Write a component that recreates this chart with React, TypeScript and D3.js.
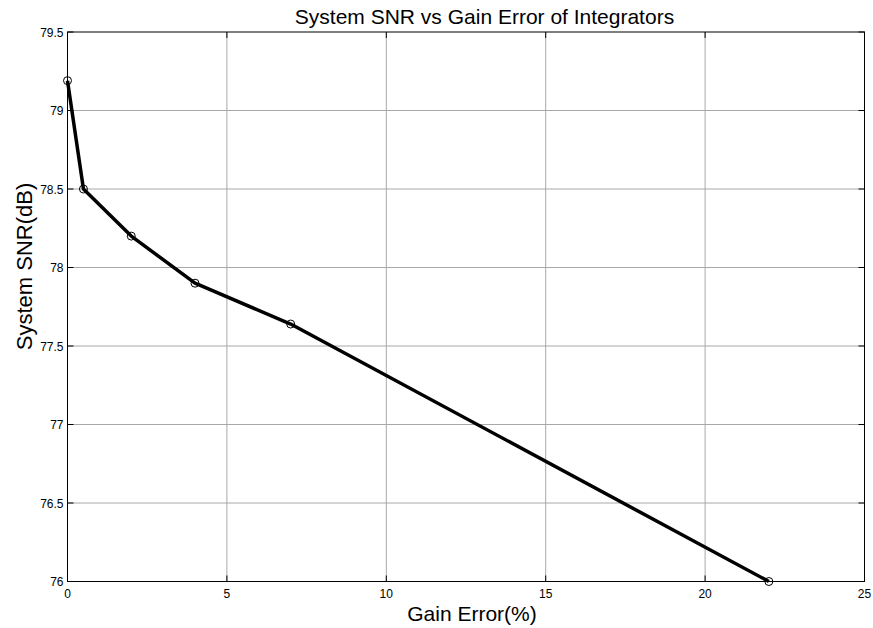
import * as d3 from 'd3';
import { useEffect, useRef } from 'react';

const gainError = [0, 0.5, 2, 4, 7, 22];
const snr = [79.19, 78.5, 78.2, 77.9, 77.64, 76];
const xTicks = [0, 5, 10, 15, 20, 25];
const yTicks = [76, 76.5, 77, 77.5, 78, 78.5, 79, 79.5];

const App = () => {
    const svgRef = useRef<SVGSVGElement>(null);

    useEffect(() => {
        const w = 873;
        const h = 628;
        const left = 67.5;
        const right = 864.5;
        const top = 32;
        const bottom = 581.5;
        const font = 'Liberation Sans, Arial, sans-serif';

        const svg = d3.select(svgRef.current);
        svg.selectAll('*').remove();
        svg.attr('width', w).attr('height', h);

        svg.append('rect').attr('width', w).attr('height', h).attr('fill', 'white');

        const x = d3.scaleLinear().domain([0, 25]).range([left, right]);
        const y = d3.scaleLinear().domain([76, 79.5]).range([bottom, top]);

        // grid
        const grid = svg.append('g').attr('stroke', '#a8a8a8').attr('stroke-width', 1);
        xTicks.slice(1, -1).forEach((t) => {
            grid.append('line').attr('x1', x(t)).attr('x2', x(t)).attr('y1', top).attr('y2', bottom);
        });
        yTicks.slice(1, -1).forEach((t) => {
            grid.append('line').attr('x1', left).attr('x2', right).attr('y1', y(t)).attr('y2', y(t));
        });

        // inward ticks
        const ticks = svg.append('g').attr('stroke', 'black').attr('stroke-width', 1);
        xTicks.forEach((t) => {
            ticks.append('line').attr('x1', x(t)).attr('x2', x(t)).attr('y1', bottom).attr('y2', bottom - 6);
            ticks.append('line').attr('x1', x(t)).attr('x2', x(t)).attr('y1', top).attr('y2', top + 6);
        });
        yTicks.forEach((t) => {
            ticks.append('line').attr('x1', left).attr('x2', left + 6).attr('y1', y(t)).attr('y2', y(t));
            ticks.append('line').attr('x1', right).attr('x2', right - 6).attr('y1', y(t)).attr('y2', y(t));
        });

        svg.append('rect')
            .attr('x', left)
            .attr('y', top)
            .attr('width', right - left)
            .attr('height', bottom - top)
            .attr('fill', 'none')
            .attr('stroke', 'black')
            .attr('stroke-width', 1);

        // tick labels
        svg.append('g')
            .selectAll('text')
            .data(xTicks)
            .enter()
            .append('text')
            .attr('x', (d) => x(d))
            .attr('y', bottom + 16.5)
            .attr('text-anchor', 'middle')
            .style('font-family', font)
            .style('font-size', '12px')
            .text((d) => d);

        svg.append('g')
            .selectAll('text')
            .data(yTicks)
            .enter()
            .append('text')
            .attr('x', left - 4)
            .attr('y', (d) => y(d) + 4.5)
            .attr('text-anchor', 'end')
            .style('font-family', font)
            .style('font-size', '12px')
            .text((d) => d);

        const pts = gainError.map((g, i) => [g, snr[i]] as [number, number]);
        const line = d3
            .line<[number, number]>()
            .x((d) => x(d[0]))
            .y((d) => y(d[1]));

        svg.append('path')
            .datum(pts)
            .attr('d', line)
            .attr('fill', 'none')
            .attr('stroke', 'black')
            .attr('stroke-width', 3.5)
            .attr('stroke-linejoin', 'round');

        svg.append('g')
            .selectAll('circle')
            .data(pts)
            .enter()
            .append('circle')
            .attr('cx', (d) => x(d[0]))
            .attr('cy', (d) => y(d[1]))
            .attr('r', 4)
            .attr('fill', 'none')
            .attr('stroke', 'black')
            .attr('stroke-width', 1);

        svg.append('text')
            .attr('x', 484.5)
            .attr('y', 24)
            .attr('text-anchor', 'middle')
            .style('font-family', font)
            .style('font-size', '21px')
            .text('System SNR vs Gain Error of Integrators');

        svg.append('text')
            .attr('x', 472)
            .attr('y', 620.5)
            .attr('text-anchor', 'middle')
            .style('font-family', font)
            .style('font-size', '21px')
            .text('Gain Error(%)');

        svg.append('text')
            .attr('transform', 'translate(32, 266.5) rotate(-90)')
            .attr('text-anchor', 'middle')
            .style('font-family', font)
            .style('font-size', '22px')
            .text('System SNR(dB)');
    }, []);

    return <svg ref={svgRef} style={{ position: 'absolute', left: 0, top: 0 }}></svg>;
};

export default App;
